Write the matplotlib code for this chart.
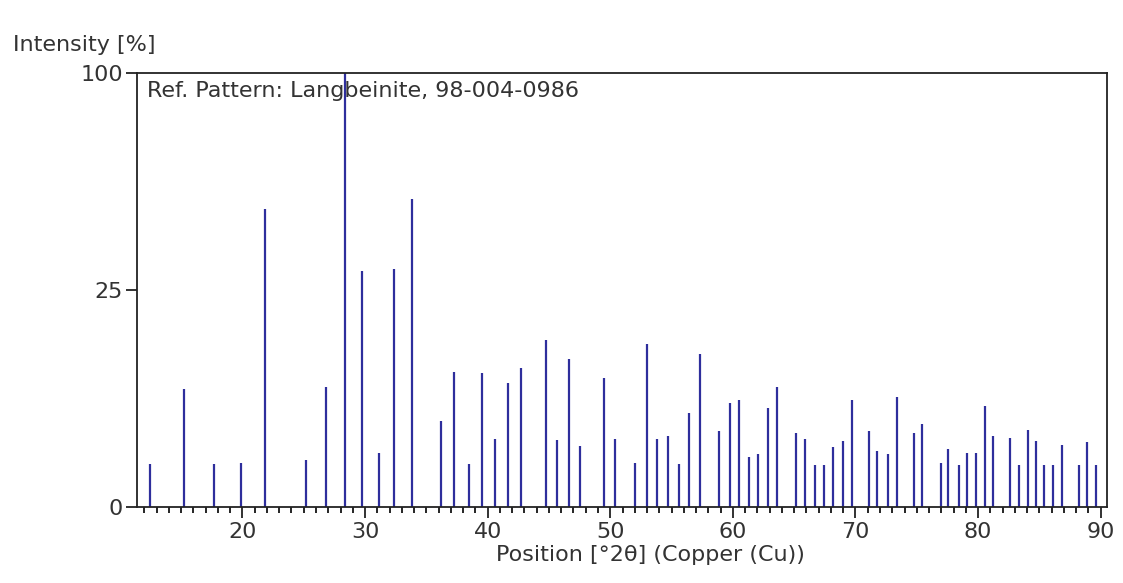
import numpy as np
import matplotlib.pyplot as plt
from matplotlib.ticker import MultipleLocator, FixedLocator

# Reference pattern: Langbeinite, 98-004-0986 (stick lines)
pos = [12.48, 15.27, 17.72, 19.9, 21.87, 25.2, 26.8, 28.37, 29.76, 31.14,
       32.36, 33.8, 36.2, 37.25, 38.48, 39.5, 40.57, 41.63, 42.69, 44.75,
       45.62, 46.65, 47.55, 49.45, 50.35, 52.03, 52.96, 53.82, 54.67, 55.57,
       56.43, 57.3, 58.88, 59.75, 60.48, 61.32, 62.03, 62.87, 63.58, 65.13,
       65.86, 66.73, 67.43, 68.14, 69.01, 69.69, 71.1, 71.78, 72.65, 73.38,
       74.74, 75.45, 77.0, 77.57, 78.41, 79.12, 79.82, 80.53, 81.24, 82.62,
       83.33, 84.03, 84.71, 85.4, 86.1, 86.81, 88.22, 88.9, 89.6]
inten = [1.0, 7.35, 1.0, 1.03, 47.0, 1.17, 7.7, 100.0, 29.6, 1.57,
         30.0, 50.4, 3.95, 9.7, 0.97, 9.5, 2.45, 8.1, 10.2, 14.8,
         2.36, 11.6, 1.95, 8.9, 2.45, 1.01, 14.05, 2.45, 2.68, 0.97,
         4.66, 12.5, 3.04, 5.74, 6.08, 1.34, 1.49, 5.24, 7.68, 2.91,
         2.45, 0.95, 0.95, 1.93, 2.33, 6.08, 3.04, 1.66, 1.49, 6.42,
         2.91, 3.66, 1.03, 1.77, 0.95, 1.57, 1.57, 5.42, 2.68, 2.55,
         0.95, 3.15, 2.33, 0.95, 0.95, 2.04, 0.95, 2.24, 0.95]

plt.rcParams['font.family'] = ['DejaVu Sans']
fs = 16

fig = plt.figure(figsize=(11.23, 5.83), dpi=100)
ax = fig.add_axes([0.122, 0.1304, 0.8636, 0.7444])

ax.vlines(pos, 0, inten, color='#2e2e9c', linewidth=1.6)

# square-root intensity axis
ax.set_yscale('function', functions=(lambda v: np.sqrt(np.clip(v, 0, None)),
                                     lambda v: np.square(v)))
ax.set_ylim(0, 100)
ax.yaxis.set_major_locator(FixedLocator([0, 25, 100]))
ax.yaxis.set_minor_locator(FixedLocator([]))
ax.set_xlim(11.4, 90.5)
ax.xaxis.set_major_locator(MultipleLocator(10))
ax.xaxis.set_minor_locator(MultipleLocator(1))

ax.tick_params(axis='both', which='major', direction='out', length=8, width=1.3,
               labelsize=fs, colors='#222222', labelcolor='#333333')
ax.tick_params(axis='x', which='minor', direction='out', length=4, width=1.2)
ax.tick_params(axis='x', pad=3)
ax.tick_params(axis='y', pad=2)
for s in ax.spines.values():
    s.set_linewidth(1.3)
    s.set_color('#222222')

ax.text(0.010, 0.982, 'Ref. Pattern: Langbeinite, 98-004-0986', transform=ax.transAxes,
        ha='left', va='top', fontsize=fs, color='#333333')

fig.text(0.012, 0.905, 'Intensity [%]', ha='left', va='bottom', fontsize=fs, color='#333333')
ax.set_xlabel('Position [°2θ] (Copper (Cu))', fontsize=fs, color='#333333', labelpad=0)
ax.xaxis.set_label_coords(0.529, -0.088)

fig.savefig('out.png', dpi=100)
